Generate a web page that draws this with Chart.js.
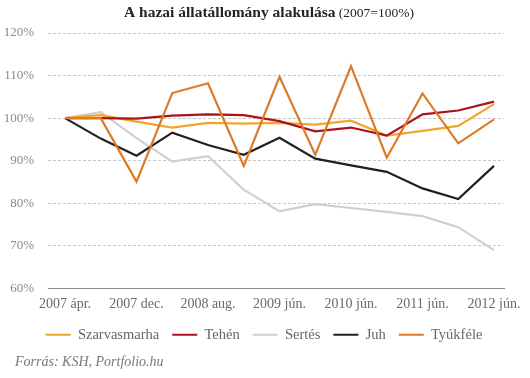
<!DOCTYPE html>
<html>
<head>
<meta charset="utf-8">
<script src="https://cdn.jsdelivr.net/npm/chart.js@4/dist/chart.umd.min.js"></script>
<style>
html,body{margin:0;padding:0;background:#fff;}
#wrap{width:530px;height:378px;position:relative;}
</style>
</head>
<body>
<div id="wrap"><canvas id="c" width="530" height="378"></canvas></div>
<script>
const tickLabels = ["2007 ápr.", "2007 dec.", "2008 aug.", "2009 jún.", "2010 jún.", "2011 jún.", "2012 jún."];
const seriesNames = ["Szarvasmarha", "Tehén", "Sertés", "Juh", "Tyúkféle"];
const szarvasmarha = [100, 100.7, 99.2, 97.8, 98.9, 98.7, 98.9, 98.5, 99.4, 95.9, 97.0, 98.2, 103.3];
const tehen        = [100, 100, 99.9, 100.6, 100.9, 100.7, 99.3, 96.9, 97.8, 95.9, 100.9, 101.8, 103.9];
const sertes       = [100, 101.4, 95.3, 89.8, 91.1, 83.2, 78.1, 79.8, 78.9, 78.0, 77.0, 74.4, 69.0];
const juh          = [100, 95.2, 91.2, 96.6, 93.7, 91.4, 95.4, 90.5, 88.9, 87.4, 83.5, 81.0, 88.8];
const tyukfele     = [100, 100, 85.1, 105.9, 108.2, 88.8, 109.7, 91.4, 112.2, 90.7, 105.8, 94.1, 99.7];
const colors = ["#f2a42c", "#a8141a", "#cfcfcf", "#231f20", "#de7a26"];

const FONT = "'Liberation Serif', 'DejaVu Serif', serif";
const toPts = arr => arr.map((v, i) => ({x: i, y: v}));
const allSeries = [szarvasmarha, tehen, sertes, juh, tyukfele];
const orders = [3, 2, 4, 1, 0];

const datasets = allSeries.map((s, k) => ({
  label: seriesNames[k],
  data: toPts(s),
  borderColor: colors[k],
  backgroundColor: colors[k],
  borderWidth: 2.2,
  pointRadius: 0,
  tension: 0,
  order: orders[k]
}));

const textPlugin = {
  id: 'texts',
  afterLayout(chart) {
    if (chart.legend) { chart.legend.left += 12; chart.legend.right += 12; }
  },
  afterDraw(chart) {
    const ctx = chart.ctx;
    ctx.save();
    ctx.textBaseline = 'middle';
    const bold = "A hazai állatállomány alakulása";
    const norm = " (2007=100%)";
    ctx.font = "bold 15.5px " + FONT;
    const wb = ctx.measureText(bold).width;
    ctx.font = "13.5px " + FONT;
    const wn = ctx.measureText(norm).width;
    let x0 = 269 - (wb + wn) / 2;
    ctx.fillStyle = "#2a2222";
    ctx.font = "bold 15.5px " + FONT;
    ctx.textAlign = 'left';
    ctx.fillText(bold, x0, 13);
    ctx.font = "13.5px " + FONT;
    ctx.fillText(norm, x0 + wb, 13);
    ctx.font = "italic 14px " + FONT;
    ctx.fillStyle = "#777";
    ctx.fillText("Forrás: KSH, Portfolio.hu", 15, 362);
    ctx.restore();
  }
};

new Chart(document.getElementById('c'), {
  type: 'line',
  data: { datasets },
  options: {
    responsive: false,
    animation: false,
    events: [],
    layout: { padding: { top: 33, left: 0, right: 26, bottom: 26 } },
    plugins: {
      title: { display: false },
      tooltip: { enabled: false },
      legend: {
        position: 'bottom',
        labels: {
          boxWidth: 25,
          boxHeight: 2,
          padding: 13,
          color: "#666",
          font: { family: FONT, size: 14.5 },
          sort: (a, b) => a.datasetIndex - b.datasetIndex,
          generateLabels: chart => chart.data.datasets.map((d, i) => ({
            text: d.label,
            fillStyle: d.borderColor,
            strokeStyle: d.borderColor,
            lineWidth: 0,
            hidden: false,
            datasetIndex: i,
            fontColor: "#666"
          }))
        }
      }
    },
    scales: {
      x: {
        type: 'linear',
        min: -0.476,
        max: 12.28,
        grid: { display: false, drawTicks: false },
        border: { display: true, color: "#8c8c8c", width: 1 },
        afterBuildTicks: s => { s.ticks = [0, 2, 4, 6, 8, 10, 12].map(v => ({ value: v })); },
        ticks: {
          autoSkip: false,
          maxRotation: 0,
          padding: 7,
          color: "#6a6a6a",
          font: { family: FONT, size: 14 },
          callback: v => tickLabels[v / 2]
        },
        afterFit: s => { s.height = 26; }
      },
      y: {
        min: 60,
        max: 120,
        grid: { color: "#c8c8c8", drawTicks: false, lineWidth: 1 },
        border: { display: false, dash: [3, 2] },
        ticks: {
          stepSize: 10,
          padding: 14,
          color: "#8a8a8a",
          font: { family: FONT, size: 13 },
          callback: v => v + '%'
        },
        afterFit: s => { s.width = 48; }
      }
    }
  },
  plugins: [textPlugin]
});
</script>
</body>
</html>
